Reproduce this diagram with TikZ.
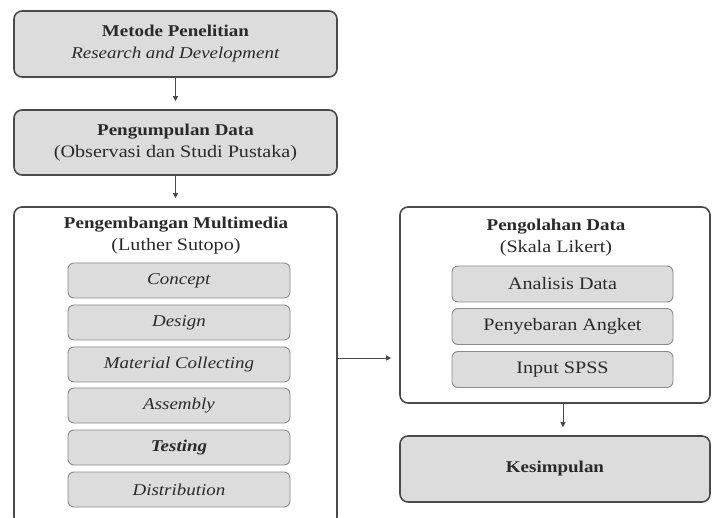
\documentclass[tikz,border=0pt]{standalone}
\usepackage{fontspec}
\setmainfont{Liberation Serif}[FakeStretch=1.15]
\usetikzlibrary{arrows.meta}
\definecolor{boxfill}{HTML}{DCDCDC}
\definecolor{edge}{HTML}{4A4A4A}
\definecolor{inedge}{HTML}{8A8A8A}
\definecolor{ink}{HTML}{2A2A2A}
\tikzset{
  outerbox/.style={draw=edge, line width=1.6pt, rounded corners=8pt, text=ink, inner sep=0pt, align=center},
  greybox/.style={outerbox, fill=boxfill},
  whitebox/.style={outerbox, fill=white},
  innerbox/.style={draw=inedge, line width=0.9pt, fill=boxfill, rounded corners=6pt, text=ink, inner sep=0pt, align=center},
  titletext/.style={text=ink, align=center, inner sep=0pt},
  arr/.style={draw=edge, line width=0.9pt, -{Triangle[length=5pt,width=5pt]}, shorten >=8pt},
  bfont/.style={font=\fontsize{16.5}{22}\selectfont},
  rfont/.style={font=\fontsize{17.5}{22}\selectfont},
}
\begin{document}
\begin{tikzpicture}[x=1pt,y=-1pt]
\useasboundingbox (0,0) rectangle (712,518);
% left column
\node[greybox, minimum width=323pt, minimum height=66pt, bfont] (mp) at (175.5,44)
  {\textbf{Metode Penelitian}\\ \textit{Research and Development}};
\node[greybox, minimum width=323pt, minimum height=65pt, bfont] (pd) at (175.5,142.5)
  {\textbf{Pengumpulan Data}\\ {\fontsize{17.5}{22}\selectfont (Observasi dan Studi Pustaka)}};
\node[whitebox, minimum width=323pt, minimum height=318pt] (pm) at (175.5,366) {};
\node[titletext, bfont] (pmt) at (176,236)
  {\textbf{Pengembangan Multimedia}\\ {\fontsize{17.5}{22}\selectfont (Luther Sutopo)}};
\node[innerbox, minimum width=222pt, minimum height=35pt, bfont] (c1) at (179,280.5) {\textit{Concept}};
\node[innerbox, minimum width=222pt, minimum height=35pt, bfont] (c2) at (179,322.5) {\textit{Design}};
\node[innerbox, minimum width=222pt, minimum height=35pt, bfont] (c3) at (179,364.5) {\textit{Material Collecting}};
\node[innerbox, minimum width=222pt, minimum height=35pt, bfont] (c4) at (179,405.5) {\textit{Assembly}};
\node[innerbox, minimum width=222pt, minimum height=35pt, bfont] (c5) at (179,447.5) {\textbf{\textit{Testing}}};
\node[innerbox, minimum width=222pt, minimum height=35pt, bfont] (c6) at (179,489.5) {\textit{Distribution}};
% right column
\node[whitebox, minimum width=310pt, minimum height=196pt] (ol) at (555,305) {};
\node[titletext, bfont] (olt) at (556,237.5)
  {\textbf{Pengolahan Data}\\ {\fontsize{17.5}{22}\selectfont (Skala Likert)}};
\node[innerbox, minimum width=221pt, minimum height=36pt, rfont] (d1) at (562.5,284) {Analisis Data};
\node[innerbox, minimum width=221pt, minimum height=36pt, rfont] (d2) at (562.5,326.5) {Penyebaran Angket};
\node[innerbox, minimum width=221pt, minimum height=36pt, rfont] (d3) at (562.5,369.5) {Input SPSS};
\node[greybox, minimum width=310pt, minimum height=66pt, bfont] (ks) at (555,469) {\textbf{Kesimpulan}};
% connectors
\draw[arr] (mp.south) -- (pd.north);
\draw[arr] (pd.south) -- (pd.south |- pm.north);
\draw[arr] ([yshift=8pt]pm.east) -- ([yshift=8pt]pm.east -| ol.west);
\draw[arr] ([xshift=8pt]ol.south) -- ([xshift=8pt]ks.north);
\end{tikzpicture}
\end{document}
